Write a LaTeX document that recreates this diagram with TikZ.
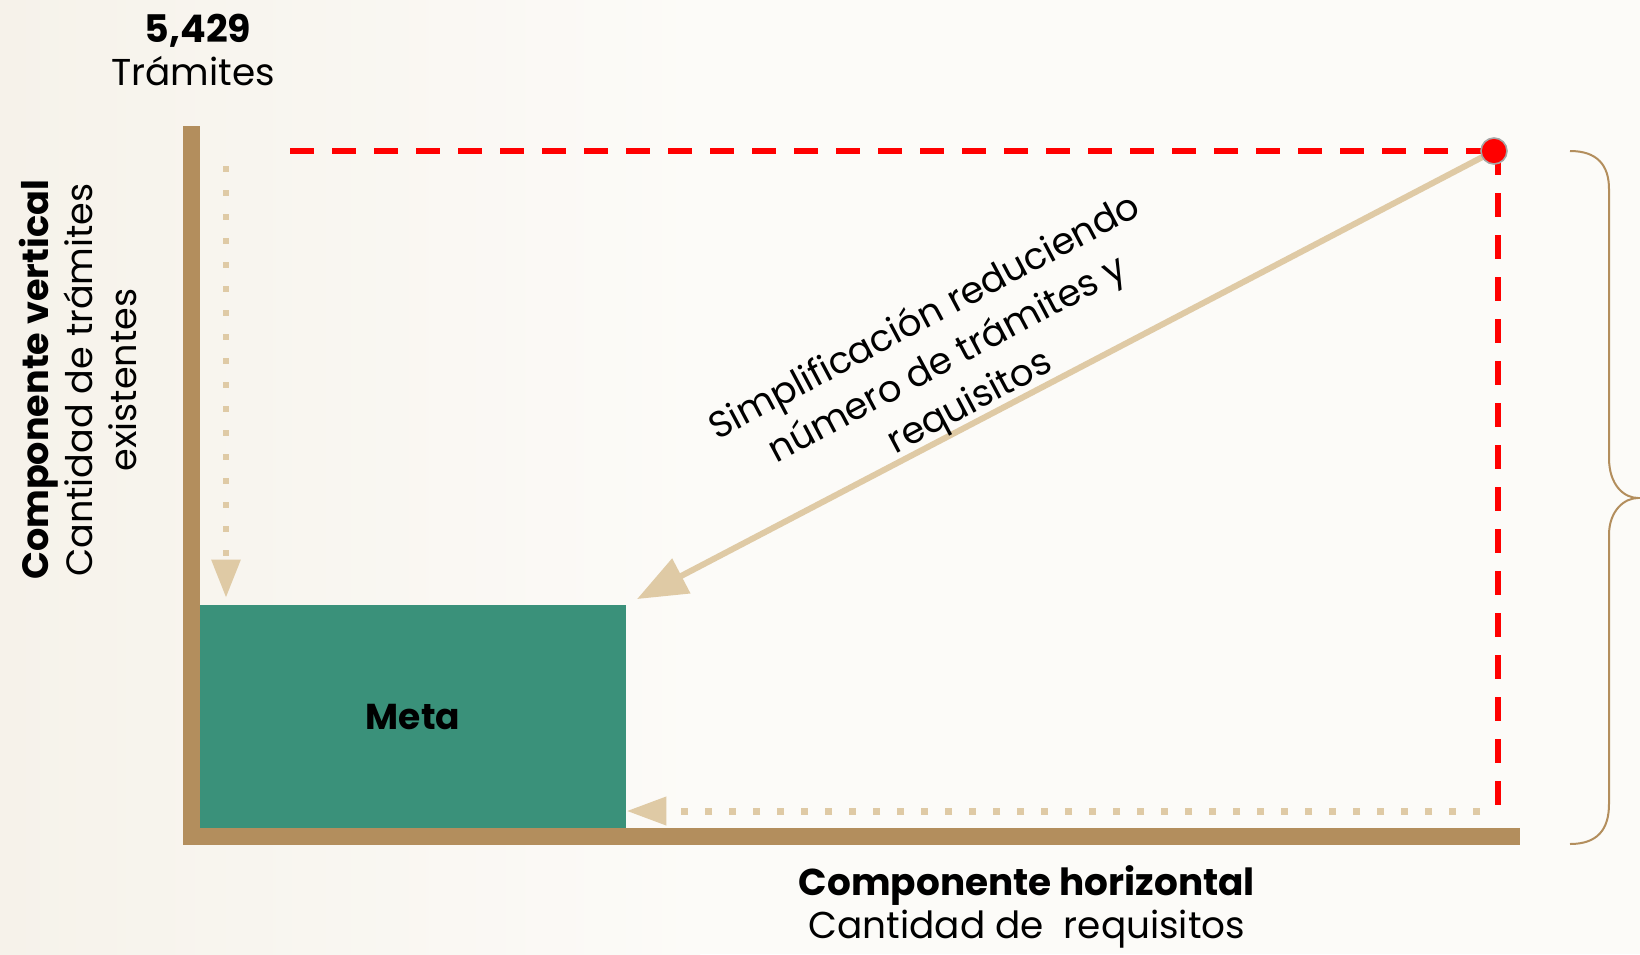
\documentclass[tikz,border=0pt]{standalone}
\usepackage{fontspec}
\setmainfont{Poppins}
\usetikzlibrary{arrows.meta,calc}
\definecolor{axiscol}{RGB}{179,142,93}
\definecolor{lighttan}{RGB}{223,202,165}
\definecolor{metagreen}{RGB}{58,145,122}
\definecolor{bgcream}{RGB}{246,242,234}
\definecolor{bgbase}{RGB}{252,251,248}
\begin{document}
\begin{tikzpicture}[x=0.5pt,y=-0.5pt,
  axis/.style={draw=axiscol,line width=8.5pt,line join=miter,line cap=butt},
  metabox/.style={fill=metagreen,minimum width=213pt,minimum height=111.5pt,inner sep=0pt,
    font=\bfseries\fontsize{18}{22}\selectfont,text=black},
  reddash/.style={draw=red,line width=2.75pt,dash pattern=on 12pt off 9pt},
  reddot/.style={circle,fill=red,draw=gray!70,line width=0.8pt,minimum size=13pt,inner sep=0pt},
  diagarrow/.style={draw=lighttan,line width=3pt,-{Triangle[length=25pt,width=19pt]},shorten >=6pt},
  dotarrowv/.style={draw=lighttan,line width=3pt,dash pattern=on 3pt off 9pt,
    -{Triangle[length=19pt,width=14pt]}},
  dotarrowh/.style={draw=lighttan,line width=3.5pt,dash pattern=on 3.5pt off 8.5pt,
    -{Triangle[length=20pt,width=13.5pt]}},
  bracecol/.style={draw=axiscol,line width=1pt},
  bignum/.style={font=\bfseries\fontsize{19}{22}\selectfont,inner sep=0pt},
  bigtxt/.style={font=\fontsize{18.7}{22}\selectfont,inner sep=0pt},
  sidelabel/.style={font=\fontsize{18.3}{22}\selectfont,align=center,inner sep=0pt},
  botlabel/.style={font=\fontsize{18.7}{21.5}\selectfont,align=center,inner sep=0pt},
  diaglabel/.style={font=\fontsize{18.5}{24}\selectfont,align=center,inner sep=0pt}
]
\fill[bgbase] (0,0) rectangle (1640,954);
\shade[left color=bgcream,right color=bgbase] (0,0) rectangle (700,954);
\useasboundingbox (0,0) rectangle (1640,954);

% Meta box
\node[metabox] (meta) at (413,716.5) {Meta};

% axes
\coordinate (ytop) at (191.5,126);
\coordinate (origin) at (191.5,836.5);
\coordinate (xend) at (1520,836.5);
\draw[axis] (ytop) -- (origin) -- (xend);

% red dashed lines
\coordinate (dotc) at (1494,151);
\coordinate (rleft) at (290,151);
\coordinate (rvtop) at (1498,151);
\coordinate (rbot) at (1498,820);
\draw[reddash] (rleft) -- (dotc);
\draw[reddash] (rvtop) -- (rbot);

% diagonal arrow
\draw[diagarrow] (dotc) -- (meta.north east);
\node[reddot] (dot) at (dotc) {};

% dotted arrows
\coordinate (vtop) at (226,166);
\draw[dotarrowv,shorten >=3.5pt] (vtop) -- (vtop |- meta.north);
\coordinate (htail) at (1480,811);
\draw[dotarrowh] (htail) -- (meta.east |- htail);

% brace
\draw[bracecol] (1570,151) .. controls (1597,151) and (1609,165) .. (1609,189)
  -- (1609,458) .. controls (1609,485) and (1624,498) .. (1638,498)
  .. controls (1624,498) and (1609,511) .. (1609,535)
  -- (1609,804) .. controls (1609,830) and (1597,844) .. (1570,844);

% texts
\node[bignum,anchor=base] (num) at (198,42) {5,429};
\node[bigtxt,anchor=base] (tram) at (193,85) {Trámites};
\node[sidelabel,rotate=90] (vlabel) at (78,380) {\textbf{Componente vertical}\\Cantidad de trámites\\existentes};
\node[botlabel] (hlabel) at (1027,907) {\textbf{Componente horizontal}\\Cantidad de\ \ requisitos};
\node[diaglabel,rotate=28] (simp) at (948,361) {Simplificación reduciendo\\número de trámites y\\requisitos};
\end{tikzpicture}
\end{document}
